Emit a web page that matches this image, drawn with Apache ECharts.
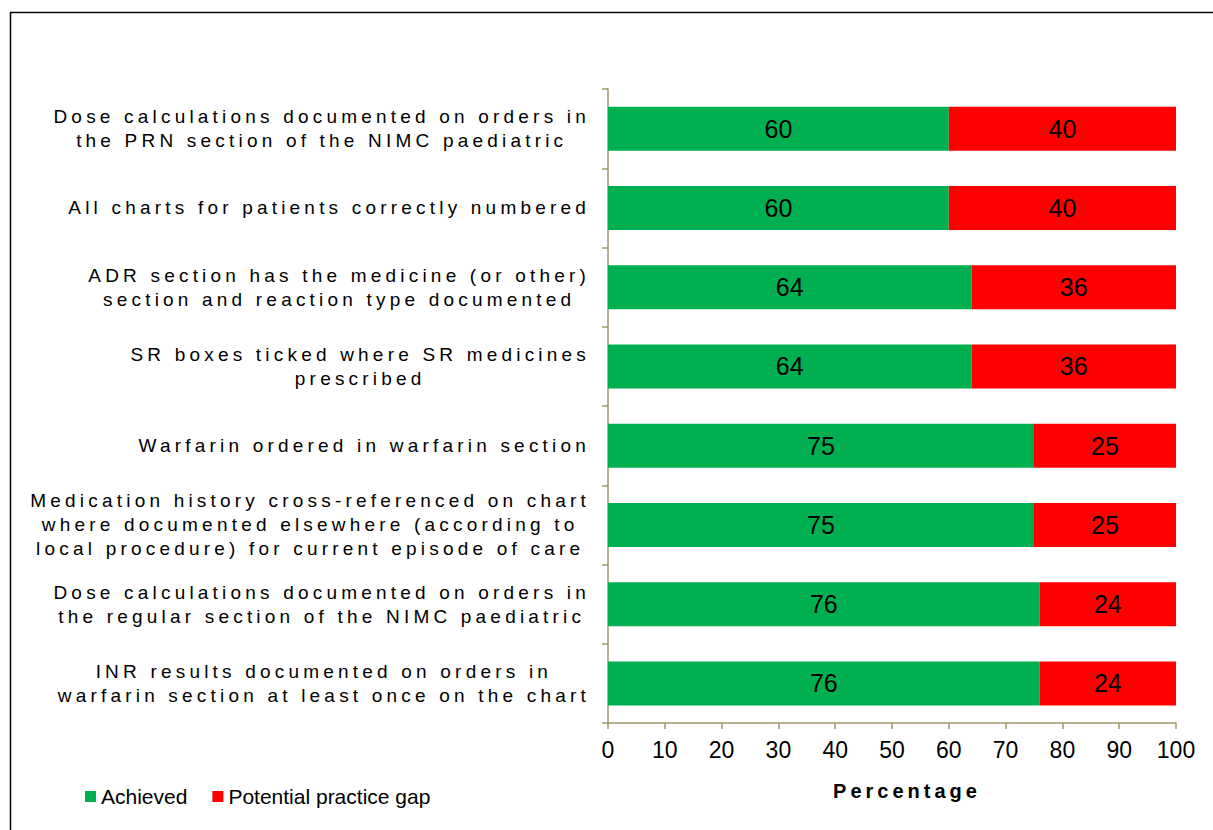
<!DOCTYPE html>
<html>
<head>
<meta charset="utf-8">
<script src="https://cdn.jsdelivr.net/npm/echarts@6/dist/echarts.min.js"></script>
<style>
  html, body { margin: 0; padding: 0; background: #fff; }
  #chart { width: 1213px; height: 830px; }
  #chart text[style*="Arial"], #chart text[font-family*="Arial"] { letter-spacing: 4.2px !important; }
  #chart text[style*="Helvetica"], #chart text[font-family*="Helvetica"] { letter-spacing: 4px !important; }
</style>
</head>
<body>
<div id="chart"></div>
<script>
// ---- data ----
const categories = [
  "Dose calculations documented on orders in\nthe PRN section of the NIMC paediatric",
  "All charts for patients correctly numbered",
  "ADR section has the medicine (or other)\nsection and reaction type documented",
  "SR boxes ticked where SR medicines\nprescribed",
  "Warfarin ordered in warfarin section",
  "Medication history cross-referenced on chart\nwhere documented elsewhere (according to\nlocal procedure) for current episode of care",
  "Dose calculations documented on orders in\nthe regular section of the NIMC paediatric",
  "INR results documented on orders in\nwarfarin section at least once on the chart"
];
const achieved = [60, 60, 64, 64, 75, 75, 76, 76];
const practiceGap = [40, 40, 36, 36, 25, 25, 24, 24];
const seriesNames = ["Achieved", "Potential practice gap"];
const axisTitle = "Percentage";

// ---- styling ----
const LABEL_FONT = "Arial, 'Liberation Sans'";      // spaced category labels
const NAME_FONT = "Helvetica, 'Liberation Sans'";   // spaced axis title
const BASE_FONT = "'Liberation Sans'";
const LS_LABEL = 4.2, LS_NAME = 4;
const AXIS_COLOR = '#a09668';

// make text measurement aware of the letter spacing used for the spaced labels
const mctx = document.createElement('canvas').getContext('2d');
echarts.setPlatformAPI({
  measureText(text, font) {
    mctx.font = font || '12px sans-serif';
    let w = mctx.measureText(text).width;
    if (font && font.indexOf('Arial') >= 0) w += text.length * LS_LABEL;
    else if (font && font.indexOf('Helvetica') >= 0) w += text.length * LS_NAME;
    return { width: w };
  }
});

const chart = echarts.init(document.getElementById('chart'), null, { renderer: 'svg' });
chart.setOption({
  animation: false,
  backgroundColor: '#fff',
  textStyle: { fontFamily: BASE_FONT },
  graphic: [{
    type: 'rect', left: 8, top: 10, silent: true,
    shape: { width: 1400, height: 1000 },
    style: { fill: 'none', stroke: '#000', lineWidth: 1.5 }
  }],
  legend: {
    left: 85, top: 786, padding: 0,
    itemWidth: 11, itemHeight: 11, itemGap: 25,
    icon: 'rect',
    textStyle: { fontFamily: BASE_FONT, fontSize: 21, color: '#000' },
    data: seriesNames
  },
  grid: { left: 608, right: 37, top: 89, bottom: 107, containLabel: false },
  xAxis: {
    type: 'value', min: 0, max: 100, interval: 10,
    name: axisTitle, nameLocation: 'middle', nameGap: 56,
    nameTextStyle: { fontFamily: NAME_FONT, fontWeight: 'bold', fontSize: 20, color: '#000', padding: [0, 0, 0, 30] },
    axisLine: { show: true, lineStyle: { color: AXIS_COLOR, width: 1.5 } },
    axisTick: { show: true, length: 6, lineStyle: { color: AXIS_COLOR, width: 1.5 } },
    axisLabel: { fontFamily: BASE_FONT, fontSize: 23, color: '#000', margin: 15 },
    splitLine: { show: false }
  },
  yAxis: {
    type: 'category', inverse: true, data: categories,
    axisLine: { show: true, lineStyle: { color: AXIS_COLOR, width: 1.5 } },
    axisTick: { show: true, length: 6, lineStyle: { color: AXIS_COLOR, width: 1.5 } },
    axisLabel: {
      margin: 18, align: 'right',
      formatter: v => v.split('\n').map(s => '{c|' + s + '}').join('\n'),
      rich: { c: { fontFamily: LABEL_FONT, fontSize: 19, lineHeight: 24, align: 'center', color: '#000' } }
    },
    splitLine: { show: false }
  },
  series: [
    {
      name: seriesNames[0], type: 'bar', stack: 'total', data: achieved, barWidth: 44,
      itemStyle: { color: '#00b050' },
      label: { show: true, position: 'inside', fontFamily: BASE_FONT, fontSize: 25, color: '#000' }
    },
    {
      name: seriesNames[1], type: 'bar', stack: 'total', data: practiceGap, barWidth: 44,
      itemStyle: { color: '#ff0000' },
      label: { show: true, position: 'inside', fontFamily: BASE_FONT, fontSize: 25, color: '#000' }
    }
  ]
});
</script>
</body>
</html>
